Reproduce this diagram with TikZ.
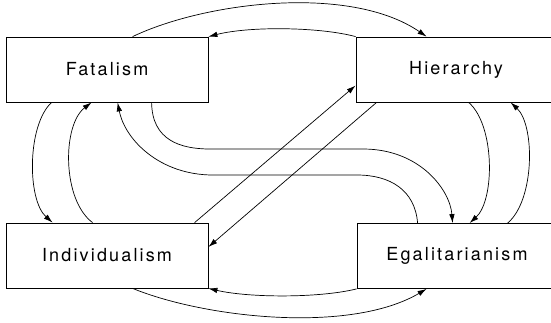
\documentclass[tikz,border=0pt]{standalone}
\usepackage{fontspec}
\newfontfamily\culturefont[LetterSpace=12]{TeX Gyre Heros}
\usetikzlibrary{calc,arrows.meta}

\begin{document}
\begin{tikzpicture}[x=1pt, y=-1pt,
		culture/.style={draw, line width=0.8pt, rectangle, inner sep=0pt,
			minimum height=65pt, font=\culturefont\fontsize{18}{21}\selectfont},
		link/.style={line width=0.7pt, -{Latex[length=9pt,width=5.5pt]}}]
	\useasboundingbox (0,0) rectangle (551,322);
	
	%------------------------------------------------
	% Ways of life
	%------------------------------------------------
	\node [culture, minimum width=202pt] (fat) at (107, 69.5) {Fatalism};
	\node [culture, minimum width=200pt] (hier) at (456, 69.5) {Hierarchy};
	\node [culture, minimum width=202pt] (ind) at (107, 255.5) {Individualism};
	\node [culture, minimum width=200pt] (egal) at (457, 256) {Egalitarianism};
	
	%------------------------------------------------
	% Top and bottom arcs
	%------------------------------------------------
	\draw [link] ([xshift=127pt]fat.north west) .. controls (205,2) and (350,-16) .. ([xshift=71pt]hier.north west);
	\draw [link] (hier.north west) .. controls (320,27) and (250,26) .. (fat.north east);
	
	\draw [link] ([xshift=127pt]ind.south west) .. controls (205,318) and (350,334) .. ([xshift=70pt]egal.south west);
	\draw [link] (egal.south west) .. controls (320,298) and (250,298) .. (ind.south east);
	
	%------------------------------------------------
	% Side arcs
	%------------------------------------------------
	\draw [link] ([xshift=46pt]fat.south west) .. controls (27,125) and (27,200) .. ([xshift=47pt]ind.north west);
	\draw [link] ([xshift=87pt]ind.north west) .. controls (62,200) and (62,125) .. ([xshift=86pt]fat.south west);
	
	\draw [link] ([xshift=113pt]hier.south west) .. controls (495,125) and (495,200) .. ([xshift=113pt]egal.north west);
	\draw [link] ([xshift=151pt]egal.north west) .. controls (535,200) and (535,125) .. ([xshift=155pt]hier.south west);
	
	%------------------------------------------------
	% Diagonals
	%------------------------------------------------
	\draw [link] ([xshift=189pt]ind.north west) -- ([yshift=-16pt]hier.west);
	\draw [link] ([xshift=21pt]hier.south west) -- ([yshift=8.5pt]ind.east);
	
	%------------------------------------------------
	% S-shaped links
	%------------------------------------------------
	\draw [link] ([xshift=146pt]fat.south west) .. controls (152,140) and (180,149) .. (210,149)
		-- (363,149) .. controls (420,149) and (450,190) .. ([xshift=96pt]egal.north west);
	\draw [link] ([xshift=61pt]egal.north west) .. controls (415,190) and (390,175) .. (357,175)
		-- (213,175) .. controls (160,175) and (125,140) .. ([xshift=112pt]fat.south west);
\end{tikzpicture}
\end{document}
